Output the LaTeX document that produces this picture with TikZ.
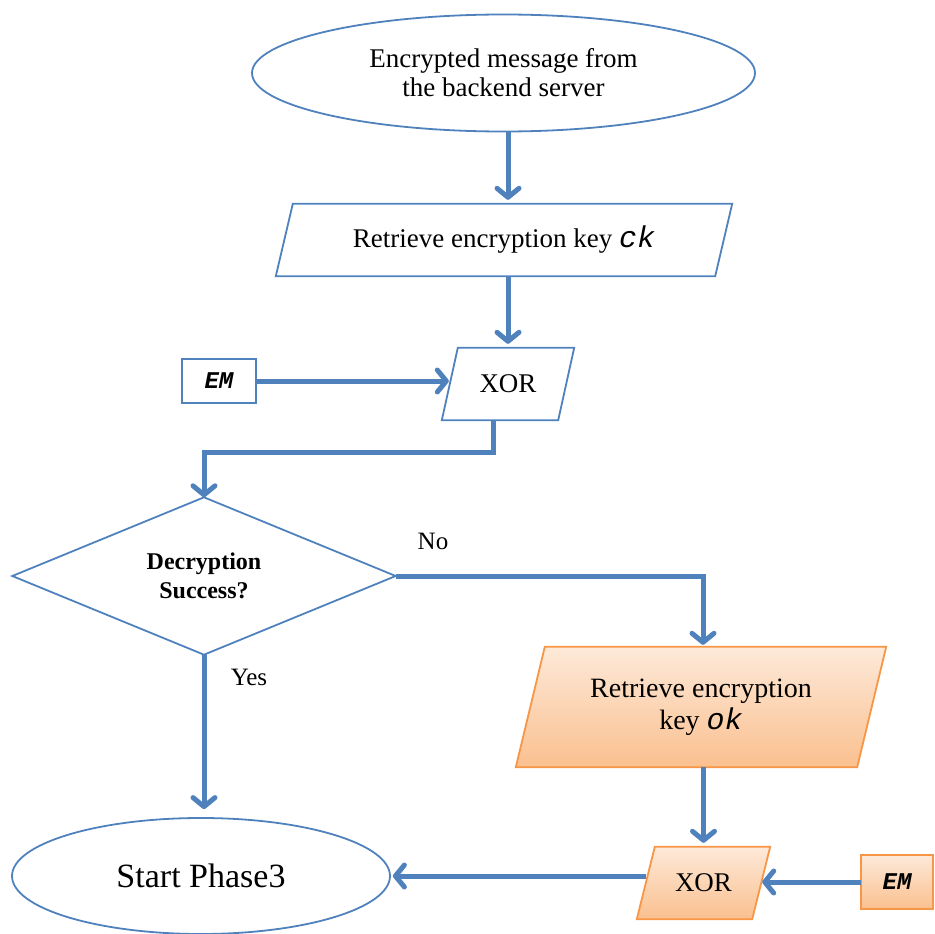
\documentclass[tikz,border=0pt]{standalone}
\usepackage{fontspec}
\setmainfont{Liberation Serif}
\setmonofont{Liberation Mono}
\usetikzlibrary{arrows.meta,shapes.geometric,backgrounds,calc}
\definecolor{lineblue}{HTML}{4F81BD}
\definecolor{edgeorange}{HTML}{F79646}
\definecolor{peachtop}{HTML}{FDE9D9}
\definecolor{peachbot}{HTML}{FAC08F}
\newcommand\codekey[1]{{\fontsize{30}{30}\selectfont\ttfamily\itshape #1}}
\newcommand\emtag{{\fontsize{24}{24}\selectfont\ttfamily\bfseries\itshape EM}}
\begin{document}
\begin{tikzpicture}[x=1pt,y=-1pt,
  flow/.style={draw=lineblue, line width=5pt,
    -{Straight Barb[length=9pt,width=22pt,round]}},
  outl/.style={draw=lineblue, line width=1.8pt},
  orangebox/.style={draw=edgeorange, line width=1.8pt,
    top color=peachtop, bottom color=peachbot},
  box/.style={inner sep=0pt, align=center, text=black},
  bodytxt/.style={font=\fontsize{27}{29}\selectfont},
  lbl/.style={inner sep=0pt, font=\fontsize{25}{25}\selectfont},
]
\useasboundingbox (0,0) rectangle (935,934);

% process nodes (text only; outlines are drawn on the background layer)
\node[box, ellipse, outl, minimum width=503, minimum height=117, bodytxt]
  (src) at (503.5,73) {Encrypted message from\\the backend server};
\node[box, minimum width=456, minimum height=72, bodytxt]
  (p1) at (504,240) {Retrieve encryption key \codekey{ck}};
\node[box, minimum width=132, minimum height=72, bodytxt]
  (xor1) at (508,384) {XOR};
\node[box, outl, rectangle, minimum width=74, minimum height=44]
  (em1) at (219,381) {\emtag};
\node[box, minimum width=383, minimum height=157,
      font=\bfseries\fontsize{24}{29}\selectfont]
  (dec) at (204,576) {Decryption\\Success?};
\node[box, minimum width=370, minimum height=120,
      font=\fontsize{28}{32}\selectfont]
  (p2) at (701,707) {Retrieve encryption\\key \codekey{ok}};
\node[box, minimum width=133, minimum height=72, bodytxt]
  (xor2) at (703.5,883) {XOR};
\node[box, minimum width=72, minimum height=54]
  (em2) at (897,882) {\emtag};
\node[box, ellipse, outl, minimum width=378, minimum height=116,
      font=\fontsize{34}{36}\selectfont]
  (start) at (201,876) {Start Phase3};

% outlines and fills
\begin{pgfonlayer}{background}
  \draw[outl] ([xshift=17pt]p1.north west) -- (p1.north east)
    -- ([xshift=-17pt]p1.south east) -- (p1.south west) -- cycle;
  \draw[outl] ([xshift=16pt]xor1.north west) -- (xor1.north east)
    -- ([xshift=-16pt]xor1.south east) -- (xor1.south west) -- cycle;
  \draw[outl] (dec.north) -- (dec.east) -- (dec.south) -- (dec.west) -- cycle;
  \path[orangebox] ([xshift=29pt]p2.north west) -- (p2.north east)
    -- ([xshift=-29pt]p2.south east) -- (p2.south west) -- cycle;
  \path[orangebox] ([xshift=18pt]xor2.north west) -- (xor2.north east)
    -- ([xshift=-18pt]xor2.south east) -- (xor2.south west) -- cycle;
  \path[orangebox] (em2.north west) rectangle (em2.south east);
\end{pgfonlayer}

% branch labels
\node[lbl] (nolbl) at (433,541) {No};
\node[lbl] (yeslbl) at (249,677) {Yes};

% connectors
\draw[flow] ([xshift=4.5pt]src.south) -- ([xshift=4pt,yshift=4pt]p1.north);
\draw[flow] ([xshift=4pt]p1.south) -- ([yshift=4pt]xor1.north);
\draw[flow] (em1.east) -- ($(em1.east -| xor1.west)+(7,0)$);
\draw[flow] ([xshift=-15pt]xor1.south) -- ++(0,32) -| (dec.north);
\draw[flow] (dec.east) -| ([xshift=2pt,yshift=2pt]p2.north);
\draw[flow] (dec.south) -- ($(dec.south |- start.north)+(0,-8)$);
\draw[flow] (p2.south -| xor2.north) -- ([yshift=4pt]xor2.north);
\draw[flow] (em2.west) -- ($(em2.west -| xor2.east)+(-8,0)$);
\draw[flow] ([xshift=9pt,yshift=7pt]xor2.west) -- ([xshift=2pt]start.east);
\end{tikzpicture}
\end{document}
